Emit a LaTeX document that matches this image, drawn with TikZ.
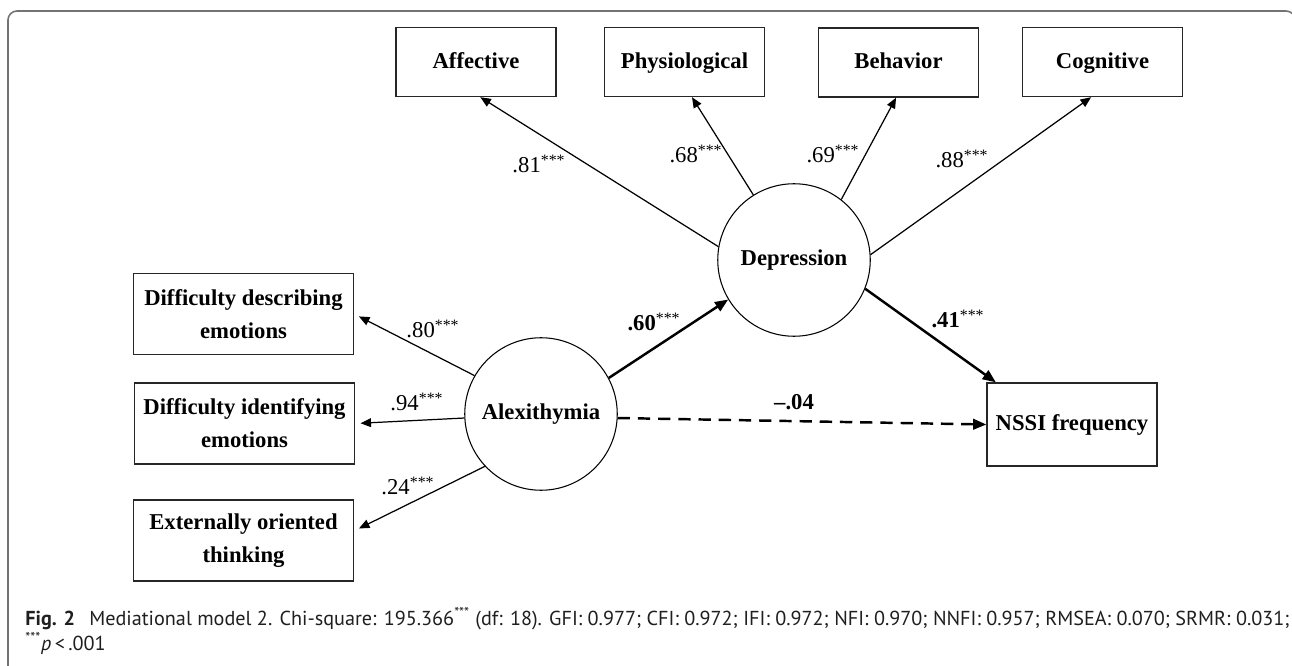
\documentclass[tikz,border=0pt]{standalone}
\usepackage{fontspec}
\setmainfont{Liberation Serif}
\newfontfamily\capfont{PT Sans}
\usetikzlibrary{arrows.meta,calc}

\begin{document}
\begin{tikzpicture}[
  indicator/.style={draw=black!85, line width=0.8pt, align=center,
    minimum width=3.2cm, minimum height=1.38cm, inner sep=2pt,
    text height=2.2ex, text depth=0.6ex,
    font=\bfseries\fontsize{12.9}{18.8}\selectfont},
  subscale/.style={draw=black!85, line width=0.8pt, align=center,
    minimum width=4.4cm, minimum height=1.62cm, inner sep=2pt,
    font=\bfseries\fontsize{12.9}{18.8}\selectfont},
  latent/.style={draw=black, circle, line width=0.6pt, minimum size=3.05cm,
    inner sep=0pt, font=\bfseries\fontsize{12.9}{15}\selectfont},
  coef/.style={inner sep=1pt, font=\fontsize{12.9}{15}\selectfont},
  load/.style={-{Triangle[length=6pt,width=5pt]}, line width=0.7pt},
  effect/.style={-{Triangle[length=7.5pt,width=6pt]}, line width=1.4pt},
  frame/.style={draw=black!55, line width=0.9pt, rounded corners=0.18cm},
  caption/.style={inner sep=0pt, text=black!88, font=\capfont\fontsize{11.5}{13}\selectfont}
]
\useasboundingbox (0,0) rectangle (25.84,13.3);
\draw[frame] (0.16,-0.5) -- (0.16,13.08) -- (25.9,13.08) -- (25.9,-0.5);

% indicators of depression
\node[indicator] (affective) at (9.52,12.06) {Affective};
\node[indicator] (physio) at (13.69,12.06) {Physiological};
\node[indicator] (behavior) at (17.97,12.05) {Behavior};
\node[indicator] (cognitive) at (22.05,12.06) {Cognitive};

% latent variables
\node[latent] (depr) at (15.88,8.10) {Depression};
\node[latent] (alex) at (10.82,5.02) {Alexithymia};

% indicators of alexithymia
\node[subscale] (ddesc) at (4.87,7.02) {Difficulty describing\\emotions};
\node[subscale] (dident) at (4.89,4.83) {Difficulty identifying\\emotions};
\node[subscale] (extern) at (4.87,2.49) {Externally oriented\\thinking};

\node[indicator, minimum width=3.4cm, minimum height=1.66cm] (nssi) at (21.44,4.81) {NSSI frequency};

\draw[load] (depr.170) -- (affective.-83);
\draw[load] (depr.122) -- (physio.-78);
\draw[load] (depr.52) -- (behavior.-94);
\draw[load] (depr.4) -- (cognitive.-108);
\draw[load, shorten >=3pt] (alex.150) -- (ddesc.east);
\draw[load, shorten >=3pt] (alex.183) -- (dident.east);
\draw[load, shorten >=3pt] (alex.223) -- (extern.5);
\draw[effect] (alex.28) -- (depr.211);
\draw[effect] (depr.-22) -- (nssi.151);
\draw[effect, dash pattern=on 7pt off 4.5pt] (alex.357) -- (nssi.west);

% coefficients
\node[coef] (c81) at (10.78,10.02) {.81\textsuperscript{***}};
\node[coef] (c68) at (13.92,10.22) {.68\textsuperscript{***}};
\node[coef] (c69) at (16.66,10.22) {.69\textsuperscript{***}};
\node[coef] (c88) at (19.24,10.12) {.88\textsuperscript{***}};
\node[coef] (c80) at (8.66,6.72) {.80\textsuperscript{***}};
\node[coef] (c94) at (8.34,5.26) {.94\textsuperscript{***}};
\node[coef] (c24) at (8.16,3.58) {.24\textsuperscript{***}};
\node[coef] (c60) at (13.08,6.86) {\textbf{.60}\textsuperscript{***}};
\node[coef] (c41) at (19.16,6.92) {\textbf{.41}\textsuperscript{***}};
\node[coef] (c04) at (15.88,5.26) {\textbf{--.04}};

% caption
\node[caption, anchor=base west] (cap1) at (0.5,0.8) {\textbf{Fig. 2}\hspace{0.7em}Mediational model 2. Chi-square: 195.366\textsuperscript{***} (df: 18). GFI: 0.977; CFI: 0.972; IFI: 0.972; NFI: 0.970; NNFI: 0.957; RMSEA: 0.070; SRMR: 0.031;};
\node[caption, anchor=base west] (cap2) at (0.5,0.3) {\textsuperscript{***}\textit{p}\,<\,.001};
\end{tikzpicture}
\end{document}
